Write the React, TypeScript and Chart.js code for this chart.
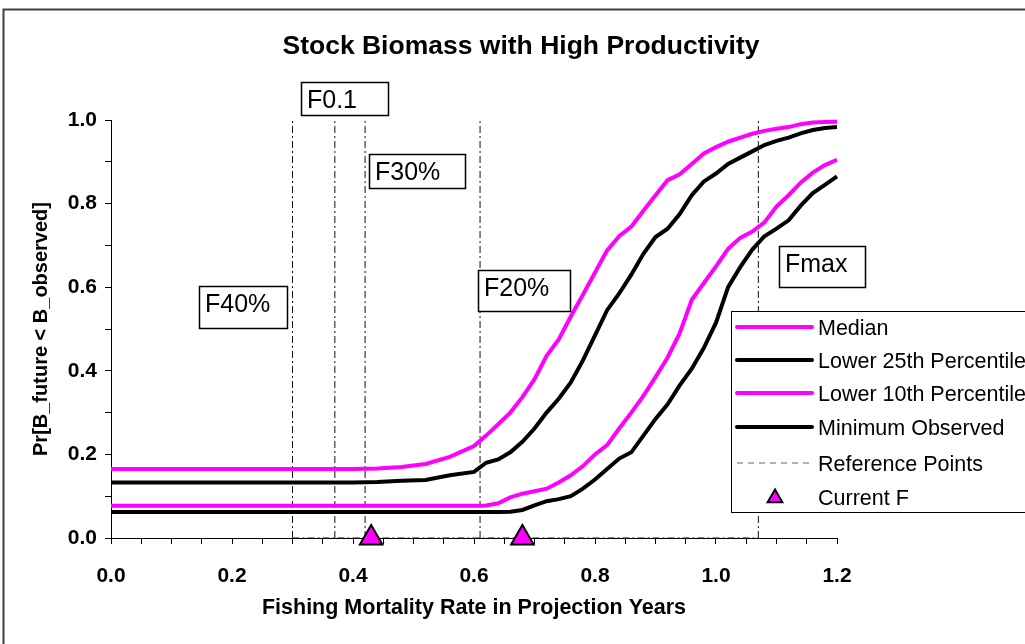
import React, { useEffect, useRef } from 'react';
import { Chart, registerables } from 'chart.js';

Chart.register(...registerables);

// ---------- DATA ----------
const fishingF = [
  0, 0.1, 0.2, 0.3, 0.4, 0.44, 0.48, 0.52, 0.56, 0.6, 0.62, 0.64, 0.66, 0.68, 0.7, 0.72, 0.74, 0.76,
  0.78, 0.8, 0.82, 0.84, 0.86, 0.88, 0.9, 0.92, 0.94, 0.96, 0.98, 1.0, 1.02, 1.04, 1.06, 1.08, 1.1,
  1.12, 1.14, 1.16, 1.18, 1.2, 1.22,
];
const median = [
  0.165, 0.165, 0.165, 0.165, 0.165, 0.166, 0.17, 0.177, 0.194, 0.22, 0.245, 0.272, 0.3, 0.337, 0.38,
  0.436, 0.475, 0.53, 0.582, 0.635, 0.688, 0.722, 0.745, 0.783, 0.82, 0.856, 0.87, 0.895, 0.92, 0.935,
  0.948, 0.958, 0.967, 0.974, 0.979, 0.983, 0.99, 0.994, 0.995, 0.996, 0.998,
];
const lower25 = [
  0.133, 0.133, 0.133, 0.133, 0.133, 0.134, 0.137, 0.139, 0.15, 0.158, 0.18, 0.188, 0.205, 0.23, 0.262,
  0.3, 0.333, 0.372, 0.425, 0.485, 0.545, 0.585, 0.63, 0.68, 0.72, 0.74, 0.775, 0.82, 0.853, 0.872,
  0.895, 0.91, 0.925, 0.94, 0.95, 0.958, 0.968, 0.976, 0.981, 0.983, 0.986,
];
const lower10 = [
  0.077, 0.077, 0.077, 0.077, 0.077, 0.077, 0.077, 0.077, 0.077, 0.077, 0.078, 0.083, 0.097, 0.106,
  0.112, 0.118, 0.133, 0.15, 0.172, 0.2, 0.222, 0.262, 0.3, 0.34, 0.385, 0.432, 0.49, 0.57, 0.61, 0.65,
  0.692, 0.718, 0.733, 0.755, 0.793, 0.82, 0.85, 0.874, 0.892, 0.905, 0.924,
];
const minObserved = [
  0.062, 0.062, 0.062, 0.062, 0.062, 0.062, 0.062, 0.062, 0.062, 0.062, 0.062, 0.062, 0.063, 0.067,
  0.078, 0.088, 0.093, 0.1, 0.118, 0.14, 0.165, 0.19, 0.205, 0.245, 0.285, 0.32, 0.365, 0.405, 0.455,
  0.515, 0.6, 0.648, 0.69, 0.722, 0.74, 0.76, 0.795, 0.825, 0.845, 0.865, 0.888,
];
const refPointF = [0.3, 0.37, 0.42, 0.61, 1.07];
const refPointLabels = ['F40%', 'F0.1', 'F30%', 'F20%', 'Fmax'];
// top-left anchor of each label box, in data units
const refLabelAnchorX = [0.1455, 0.314, 0.426, 0.607, 1.104];
const refLabelAnchorY = [0.603, 1.091, 0.919, 0.641, 0.699];
const currentF = [0.43, 0.68];
const seriesNames = [
  'Median',
  'Lower 25th Percentile',
  'Lower 10th Percentile',
  'Minimum Observed',
  'Reference Points',
  'Current F',
];
const chartTitle = 'Stock Biomass with High Productivity';
const xAxisTitle = 'Fishing Mortality Rate in Projection Years';
const yAxisTitle = 'Pr[B_future < B_observed]';

// ---------- STYLE ----------
const W = 1025;
const H = 644;
const MAGENTA = '#FF00FF';
const FONT = '"Liberation Sans", Arial, Helvetica, sans-serif';
const labelBoxSize = [
  [88, 42],
  [87, 33],
  [96, 34],
  [92, 41],
  [86, 41],
];
const seriesStyle = [
  { color: MAGENTA, width: 4, dash: [] as number[] },
  { color: '#000000', width: 4, dash: [] as number[] },
  { color: MAGENTA, width: 4, dash: [] as number[] },
  { color: '#000000', width: 4, dash: [] as number[] },
  { color: '#111111', width: 1, dash: [7, 3, 2, 3] },
];

const decorPlugin = {
  id: 'decor',
  afterDatasetsDraw(chart: any) {
    const ctx = chart.ctx as CanvasRenderingContext2D;
    const xs = chart.scales.x;
    const ys = chart.scales.y;
    const area = chart.chartArea;
    ctx.save();

    // outer frame
    ctx.strokeStyle = '#404040';
    ctx.lineWidth = 2;
    ctx.beginPath();
    ctx.moveTo(3.5, H + 5);
    ctx.lineTo(3.5, 9.5);
    ctx.lineTo(W + 5, 9.5);
    ctx.stroke();

    // title
    ctx.fillStyle = '#000';
    ctx.font = `bold 26.5px ${FONT}`;
    ctx.textAlign = 'center';
    ctx.textBaseline = 'alphabetic';
    ctx.fillText(chartTitle, 521, 54);

    // axis titles
    ctx.font = `bold 21.5px ${FONT}`;
    ctx.fillText(xAxisTitle, (area.left + area.right) / 2, 614);
    ctx.font = `bold 20px ${FONT}`;
    ctx.save();
    ctx.translate(47, (area.top + area.bottom) / 2);
    ctx.rotate(-Math.PI / 2);
    ctx.fillText(yAxisTitle, 0, 0);
    ctx.restore();

    // reference labels
    ctx.font = `25px ${FONT}`;
    ctx.textAlign = 'left';
    refPointLabels.forEach((lab, i) => {
      const x = Math.round(xs.getPixelForValue(refLabelAnchorX[i]));
      const y = Math.round(ys.getPixelForValue(refLabelAnchorY[i]));
      const [bw, bh] = labelBoxSize[i];
      ctx.fillStyle = '#fff';
      ctx.fillRect(x, y, bw, bh);
      ctx.strokeStyle = '#000';
      ctx.lineWidth = 1.5;
      ctx.strokeRect(x + 0.5, y + 0.5, bw, bh);
      ctx.fillStyle = '#000';
      ctx.fillText(lab, x + 6, y + 26);
    });

    // legend
    const lx = 731;
    const ly = 311;
    const lw = 310;
    const lh = 201;
    ctx.fillStyle = '#fff';
    ctx.fillRect(lx, ly, lw, lh);
    ctx.strokeStyle = '#000';
    ctx.lineWidth = 1;
    ctx.strokeRect(lx + 0.5, ly + 0.5, lw, lh);
    const rowY = [327, 360, 393, 427, 463, 497];
    ctx.font = `21.5px ${FONT}`;
    ctx.textBaseline = 'alphabetic';
    seriesNames.forEach((name, i) => {
      const cy = rowY[i];
      if (i < 5) {
        const st = seriesStyle[i];
        ctx.beginPath();
        ctx.strokeStyle = i === 4 ? '#666' : st.color;
        ctx.lineWidth = st.width;
        ctx.lineCap = i === 4 ? 'butt' : 'round';
        ctx.setLineDash(i === 4 ? [6, 5] : []);
        ctx.moveTo(737, cy);
        ctx.lineTo(812, cy);
        ctx.stroke();
        ctx.setLineDash([]);
      } else {
        const r = 8.5;
        const cx = 775;
        const cyy = cy + 1;
        ctx.beginPath();
        ctx.moveTo(cx, cyy - r);
        ctx.lineTo(cx + r * 0.866, cyy + r * 0.5);
        ctx.lineTo(cx - r * 0.866, cyy + r * 0.5);
        ctx.closePath();
        ctx.fillStyle = MAGENTA;
        ctx.fill();
        ctx.strokeStyle = '#000';
        ctx.lineWidth = 2;
        ctx.lineJoin = 'miter';
        ctx.stroke();
      }
      ctx.fillStyle = '#000';
      ctx.fillText(name, 818, cy + 8);
    });

    ctx.restore();
  },
};

export default function App() {
  const ref = useRef<HTMLCanvasElement | null>(null);
  useEffect(() => {
    document.body.style.margin = '0';
    const canvas = ref.current;
    if (!canvas) return;
    const curveClip = { left: 0, top: 8, right: 14, bottom: 0 };
    const curves = [median, lower25, lower10, minObserved].map((vals, k) => ({
      type: 'line' as const,
      label: seriesNames[k],
      data: fishingF.map((x, i) => ({ x, y: vals[i] })),
      borderColor: seriesStyle[k].color,
      borderWidth: seriesStyle[k].width,
      pointRadius: 0,
      tension: 0,
      clip: curveClip,
    }));
    const refLines = refPointF.map((f) => ({
      type: 'line' as const,
      label: seriesNames[4],
      data: [
        { x: f, y: 0 },
        { x: f, y: 1 },
      ],
      borderColor: seriesStyle[4].color,
      borderWidth: seriesStyle[4].width,
      borderDash: seriesStyle[4].dash,
      pointRadius: 0,
      clip: 2,
    }));
    const refBase = {
      type: 'line' as const,
      label: seriesNames[4],
      data: [
        { x: refPointF[0], y: 0 },
        { x: refPointF[refPointF.length - 1], y: 0 },
      ],
      borderColor: seriesStyle[4].color,
      borderWidth: seriesStyle[4].width,
      borderDash: seriesStyle[4].dash,
      pointRadius: 0,
      clip: 2,
    };
    const tri = {
      type: 'line' as const,
      label: seriesNames[5],
      data: currentF.map((x) => ({ x, y: 0 })),
      showLine: false,
      pointStyle: 'triangle',
      pointRadius: 13,
      pointBackgroundColor: MAGENTA,
      pointBorderColor: '#000',
      pointBorderWidth: 2,
      clip: false as const,
    };
    const chart = new Chart(canvas, {
      type: 'line',
      data: { datasets: [tri, ...curves, ...refLines, refBase] as any },
      options: {
        animation: false,
        responsive: false,
        devicePixelRatio: 1,
        layout: { padding: { left: 0, top: 120, right: W - 837, bottom: 0 } },
        plugins: {
          legend: { display: false },
          title: { display: false },
          tooltip: { enabled: false },
        },
        scales: {
          x: {
            type: 'linear',
            min: 0,
            max: 1.2,
            afterFit: (s: any) => {
              s.height = H - 538;
            },
            ticks: {
              stepSize: 0.05,
              autoSkip: false,
              maxRotation: 0,
              padding: 20,
              color: '#000',
              font: { family: FONT, size: 21, weight: 'bold' },
              callback: (v: any) => {
                const n = Number(v);
                return Math.abs(n * 5 - Math.round(n * 5)) < 1e-6 ? n.toFixed(1) : '';
              },
            },
            grid: {
              drawOnChartArea: false,
              drawTicks: true,
              tickLength: 6,
              color: '#000',
              lineWidth: 1,
            },
            border: { color: '#000', width: 1 },
          },
          y: {
            type: 'linear',
            min: 0,
            max: 1,
            afterFit: (s: any) => {
              s.width = 111;
            },
            ticks: {
              stepSize: 0.1,
              autoSkip: false,
              padding: 8,
              color: '#000',
              font: { family: FONT, size: 21, weight: 'bold' },
              callback: (v: any) => {
                const n = Number(v);
                return Math.abs(n * 5 - Math.round(n * 5)) < 1e-6 ? n.toFixed(1) : '';
              },
            },
            grid: {
              drawOnChartArea: false,
              drawTicks: true,
              tickLength: 6,
              color: '#000',
              lineWidth: 1,
            },
            border: { color: '#000', width: 1 },
          },
        },
      } as any,
      plugins: [decorPlugin],
    });
    return () => chart.destroy();
  }, []);
  return (
    <div style={{ width: W, height: H, position: 'relative', background: '#fff' }}>
      <canvas ref={ref} width={W} height={H} style={{ display: 'block' }} />
    </div>
  );
}
